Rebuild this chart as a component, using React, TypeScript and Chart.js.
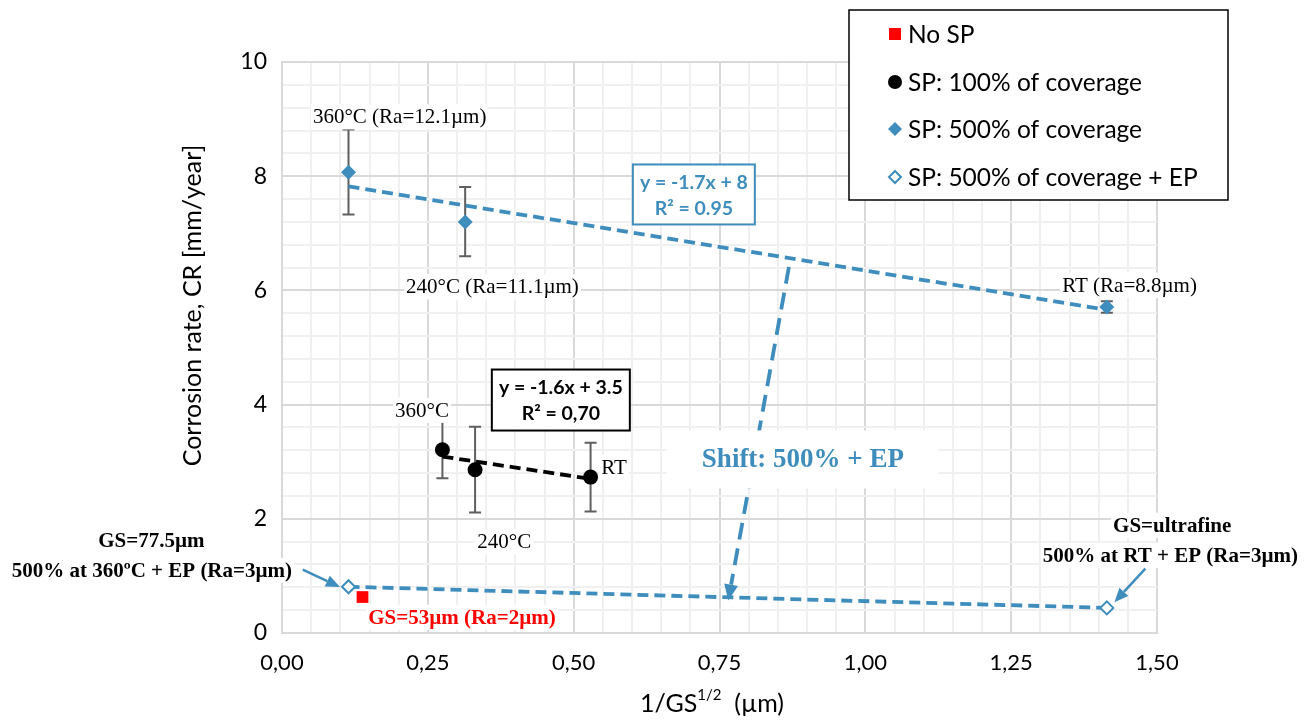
import React, { useEffect, useRef } from 'react';
import { Chart, registerables } from 'chart.js';

Chart.register(...registerables);

// ---------- data ----------
const xTickLabels = ['0,00', '0,25', '0,50', '0,75', '1,00', '1,25', '1,50'];
const yTickLabels = ['0', '2', '4', '6', '8', '10'];

const seriesNames = ['No SP', 'SP: 100% of coverage', 'SP: 500% of coverage', 'SP: 500% of coverage + EP'];

const noSpX = [0.138];
const noSpY = [0.63];

const sp100X = [0.275, 0.331, 0.529];
const sp100Y = [3.21, 2.86, 2.73];
const sp100ErrPlus = [0.49, 0.75, 0.6];
const sp100ErrMinus = [0.5, 0.75, 0.6];

const sp500X = [0.114, 0.314, 1.414];
const sp500Y = [8.07, 7.2, 5.71];
const sp500ErrPlus = [0.75, 0.61, 0.1];
const sp500ErrMinus = [0.74, 0.6, 0.1];

const epX = [0.114, 1.414];
const epY = [0.81, 0.44];

const trend500X = [0.114, 1.414];
const trend500Y = [7.82, 5.66];
const trend100X = [0.275, 0.529];
const trend100Y = [3.09, 2.7];

const shiftX = [0.869, 0.765];
const shiftY = [6.41, 0.57];

const trend500Text = ['y = -1.7x + 8', 'R² = 0.95'];
const trend100Text = ['y = -1.6x + 3.5', 'R² = 0,70'];

// ---------- styling ----------
const BLUE = '#3e8dbd';
const RED = '#ff0000';
const SERIF = "'Liberation Serif', 'Times New Roman', serif";
const SANS = "Lato, 'Open Sans', sans-serif";

type Lbl = { t: string; x: number; y: number; bold?: boolean; color?: string; size?: number };
const annotations: Lbl[] = [
  { t: '360°C (Ra=12.1µm)', x: 0.2017, y: 9.04 },
  { t: '240°C (Ra=11.1µm)', x: 0.3608, y: 6.06 },
  { t: 'RT (Ra=8.8µm)', x: 1.453, y: 6.09 },
  { t: '360°C', x: 0.24, y: 3.9 },
  { t: '240°C', x: 0.381, y: 1.594 },
  { t: 'RT', x: 0.569, y: 2.9 },
  { t: 'GS=53µm (Ra=2µm)', x: 0.3085, y: 0.275, bold: true, color: RED },
  { t: 'GS=77.5µm', x: -0.224, y: 1.62, bold: true },
  { t: '500% at 360ºC + EP (Ra=3µm)', x: -0.223, y: 1.095, bold: true },
  { t: 'GS=ultrafine', x: 1.526, y: 1.886, bold: true },
  { t: '500% at RT + EP (Ra=3µm)', x: 1.523, y: 1.36, bold: true },
];

const isMult = (v: number, m: number) => Math.abs(v / m - Math.round(v / m)) < 1e-6;

function arrow(ctx: CanvasRenderingContext2D, x1: number, y1: number, x2: number, y2: number,
  color: string, width: number, headLen: number, headW: number, dash: number[] = []) {
  const a = Math.atan2(y2 - y1, x2 - x1);
  const bx = x2 - headLen * Math.cos(a);
  const by = y2 - headLen * Math.sin(a);
  ctx.save();
  ctx.strokeStyle = color;
  ctx.lineWidth = width;
  ctx.setLineDash(dash);
  ctx.beginPath();
  ctx.moveTo(x1, y1);
  ctx.lineTo(bx, by);
  ctx.stroke();
  ctx.setLineDash([]);
  ctx.fillStyle = color;
  ctx.beginPath();
  ctx.moveTo(x2, y2);
  ctx.lineTo(bx + (headW / 2) * Math.sin(a), by - (headW / 2) * Math.cos(a));
  ctx.lineTo(bx - (headW / 2) * Math.sin(a), by + (headW / 2) * Math.cos(a));
  ctx.closePath();
  ctx.fill();
  ctx.restore();
}

const decorPlugin = {
  id: 'decor',
  beforeDatasetsDraw(chart: any) {
    const ctx: CanvasRenderingContext2D = chart.ctx;
    const xs = chart.scales.x;
    const ys = chart.scales.y;
    const px = (v: number) => xs.getPixelForValue(v);
    const py = (v: number) => ys.getPixelForValue(v);

    // error bars
    ctx.save();
    ctx.strokeStyle = '#5f5f5f';
    ctx.lineWidth = 2;
    const bars = (X: number[], Y: number[], P: number[], M: number[]) => {
      X.forEach((x, i) => {
        const cx = px(x);
        const t = py(Y[i] + P[i]);
        const b = py(Y[i] - M[i]);
        ctx.beginPath();
        ctx.moveTo(cx, t); ctx.lineTo(cx, b);
        ctx.moveTo(cx - 6, t); ctx.lineTo(cx + 6, t);
        ctx.moveTo(cx - 6, b); ctx.lineTo(cx + 6, b);
        ctx.stroke();
      });
    };
    bars(sp100X, sp100Y, sp100ErrPlus, sp100ErrMinus);
    bars(sp500X, sp500Y, sp500ErrPlus, sp500ErrMinus);
    ctx.restore();

    // shift arrow
    arrow(ctx, px(shiftX[0]), py(shiftY[0]), px(shiftX[1]), py(shiftY[1]), BLUE, 3.8, 16, 14, [17, 9]);

    // shift label with white box
    ctx.save();
    const sx = px(0.893), sy = py(3.04);
    ctx.fillStyle = '#fff';
    ctx.fillRect(sx - 136, sy - 29, 272, 58);
    ctx.font = `bold 27px ${SERIF}`;
    ctx.fillStyle = BLUE;
    ctx.textAlign = 'center';
    ctx.textBaseline = 'middle';
    ctx.fillText('Shift: 500% + EP', sx, sy + 1);
    ctx.restore();

    // text annotations
    ctx.save();
    ctx.textAlign = 'center';
    ctx.textBaseline = 'middle';
    annotations.forEach((a) => {
      const size = a.size || 21;
      ctx.font = `${a.bold ? 'bold ' : ''}${size}px ${SERIF}`;
      const w = ctx.measureText(a.t).width;
      const x = px(a.x), y = py(a.y);
      ctx.fillStyle = '#fff';
      ctx.fillRect(x - w / 2 - 2, y - size * 0.6, w + 4, size * 1.2);
      ctx.fillStyle = a.color || '#000';
      ctx.fillText(a.t, x, y + 1);
    });
    ctx.restore();
  },
  afterDraw(chart: any) {
    const ctx: CanvasRenderingContext2D = chart.ctx;
    const xs = chart.scales.x;
    const ys = chart.scales.y;
    const px = (v: number) => xs.getPixelForValue(v);
    const py = (v: number) => ys.getPixelForValue(v);
    const area = chart.chartArea;

    // annotation arrows
    arrow(ctx, px(0.0355), py(1.11), px(0.0994), py(0.805), BLUE, 2.5, 14, 12);
    arrow(ctx, px(1.48), py(1.128), px(1.427), py(0.54), BLUE, 2.5, 14, 12);

    // trendline equation boxes
    const eqBox = (cxv: number, cyv: number, w: number, h: number, color: string, lines: string[]) => {
      const cx = px(cxv), cy = py(cyv);
      ctx.save();
      ctx.fillStyle = '#fff';
      ctx.fillRect(cx - w / 2, cy - h / 2, w, h);
      ctx.strokeStyle = color;
      ctx.lineWidth = 2;
      ctx.strokeRect(cx - w / 2, cy - h / 2, w, h);
      ctx.fillStyle = color;
      ctx.font = `bold 19.5px ${SANS}`;
      ctx.textAlign = 'center';
      ctx.textBaseline = 'middle';
      ctx.fillText(lines[0], cx, cy - 12);
      ctx.fillText(lines[1], cx, cy + 14);
      ctx.restore();
    };
    eqBox(0.706, 7.68, 122, 60, BLUE, trend500Text);
    eqBox(0.478, 4.08, 138, 61, '#000', trend100Text);

    // legend
    ctx.save();
    ctx.fillStyle = '#fff';
    ctx.fillRect(849, 10, 379, 190);
    ctx.strokeStyle = '#000';
    ctx.lineWidth = 1.5;
    ctx.strokeRect(849, 10, 379, 190);
    const ly = [34, 82, 129, 177];
    const mx = 895;
    ctx.fillStyle = RED;
    ctx.fillRect(mx - 6, ly[0] - 6, 12, 12);
    ctx.fillStyle = '#000';
    ctx.beginPath(); ctx.arc(mx, ly[1], 7, 0, Math.PI * 2); ctx.fill();
    ctx.fillStyle = BLUE;
    ctx.beginPath();
    ctx.moveTo(mx, ly[2] - 7); ctx.lineTo(mx + 7, ly[2]); ctx.lineTo(mx, ly[2] + 7); ctx.lineTo(mx - 7, ly[2]);
    ctx.closePath(); ctx.fill();
    ctx.strokeStyle = BLUE; ctx.lineWidth = 2; ctx.fillStyle = '#fff';
    ctx.beginPath();
    ctx.moveTo(mx, ly[3] - 6); ctx.lineTo(mx + 6, ly[3]); ctx.lineTo(mx, ly[3] + 6); ctx.lineTo(mx - 6, ly[3]);
    ctx.closePath(); ctx.fill(); ctx.stroke();
    ctx.fillStyle = '#000';
    ctx.font = `24.5px ${SANS}`;
    ctx.textAlign = 'left';
    ctx.textBaseline = 'middle';
    seriesNames.forEach((n, i) => ctx.fillText(n, 908, ly[i] + 1));
    ctx.restore();

    // y title
    ctx.save();
    ctx.fillStyle = '#000';
    ctx.textBaseline = 'middle';
    ctx.translate(193, (area.top + area.bottom) / 2 - 42);
    ctx.rotate(-Math.PI / 2);
    ctx.textAlign = 'center';
    ctx.font = `25px ${SANS}`;
    ctx.fillText('Corrosion rate, CR [mm/year]', 0, 0);
    ctx.restore();

    // x title with superscript
    ctx.save();
    ctx.fillStyle = '#000';
    ctx.textBaseline = 'middle';
    ctx.textAlign = 'left';
    const big = `25px ${SANS}`;
    const small = `15px ${SANS}`;
    const parts: [string, string, number][] = [['1/GS', big, 0], ['1/2', small, -9], ['  (µm)', big, 0]];
    let total = 0;
    parts.forEach(([t, f]) => { ctx.font = f; total += ctx.measureText(t).width; });
    let x = 712 - total / 2;
    const y = 704;
    parts.forEach(([t, f, dy]) => {
      ctx.font = f;
      ctx.fillText(t, x, y + dy);
      x += ctx.measureText(t).width;
    });
    ctx.restore();
  },
};

export default function App() {
  const ref = useRef<HTMLCanvasElement | null>(null);

  useEffect(() => {
    if (!ref.current) return;
    const pts = (X: number[], Y: number[]) => X.map((x, i) => ({ x, y: Y[i] }));
    const chart = new Chart(ref.current, {
      type: 'scatter',
      data: {
        datasets: [
          {
            label: 'trend500', data: pts(trend500X, trend500Y), showLine: true, borderColor: BLUE,
            borderWidth: 3.8, borderDash: [11, 6], pointRadius: 0,
          },
          {
            label: 'trend100', data: pts(trend100X, trend100Y), showLine: true, borderColor: '#000',
            borderWidth: 3.8, borderDash: [11, 6], pointRadius: 0,
          },
          {
            label: seriesNames[3], data: pts(epX, epY), showLine: true, borderColor: BLUE, borderWidth: 3.8,
            borderDash: [11, 6], pointStyle: 'rectRot', pointRadius: 6.5, pointBackgroundColor: '#fff',
            pointBorderColor: BLUE, pointBorderWidth: 2,
          },
          {
            label: seriesNames[0], data: pts(noSpX, noSpY), pointStyle: 'rect', pointRadius: 8.3,
            pointBackgroundColor: RED, pointBorderColor: RED, pointBorderWidth: 0,
          },
          {
            label: seriesNames[1], data: pts(sp100X, sp100Y), pointStyle: 'circle', pointRadius: 7.5,
            pointBackgroundColor: '#000', pointBorderColor: '#000', pointBorderWidth: 0,
          },
          {
            label: seriesNames[2], data: pts(sp500X, sp500Y), pointStyle: 'rectRot', pointRadius: 7.5,
            pointBackgroundColor: BLUE, pointBorderColor: BLUE, pointBorderWidth: 0,
          },
        ],
      },
      options: {
        responsive: false,
        animation: false,
        events: [],
        layout: { padding: { left: 0, right: 153, top: 62, bottom: 0 } },
        plugins: { legend: { display: false }, tooltip: { enabled: false } },
        scales: {
          x: {
            type: 'linear', min: 0, max: 1.5,
            afterFit: (axis: any) => { axis.height = 87; },
            ticks: {
              stepSize: 0.05, autoSkip: false, maxRotation: 0, padding: 17, color: '#000',
              font: { family: SANS, size: 22 },
              callback: (v: any) => {
                const n = Number(v);
                if (!isMult(n, 0.25)) return '';
                return xTickLabels[Math.round(n / 0.25)];
              },
            },
            grid: {
              drawTicks: false, lineWidth: 2,
              color: (c: any) => (isMult(c.tick.value, 0.25) ? '#d9d9d9' : '#f0f0f0'),
            },
            border: { color: '#d9d9d9', width: 2 },
          },
          y: {
            type: 'linear', min: 0, max: 10,
            afterFit: (axis: any) => { axis.width = 282; },
            ticks: {
              stepSize: 0.4, autoSkip: false, padding: 15, color: '#000',
              font: { family: SANS, size: 23 },
              callback: (v: any) => {
                const n = Number(v);
                if (!isMult(n, 2)) return '';
                return yTickLabels[Math.round(n / 2)];
              },
            },
            grid: {
              drawTicks: false, lineWidth: 2,
              color: (c: any) => (isMult(c.tick.value, 2) ? '#d9d9d9' : '#f0f0f0'),
            },
            border: { color: '#d9d9d9', width: 2 },
          },
        },
      },
      plugins: [decorPlugin],
    });
    return () => chart.destroy();
  }, []);

  return (
    <div style={{ position: 'absolute', left: 0, top: 0, width: 1310, height: 720, background: '#fff' }}>
      <canvas ref={ref} width={1310} height={720} style={{ display: 'block' }} />
    </div>
  );
}
